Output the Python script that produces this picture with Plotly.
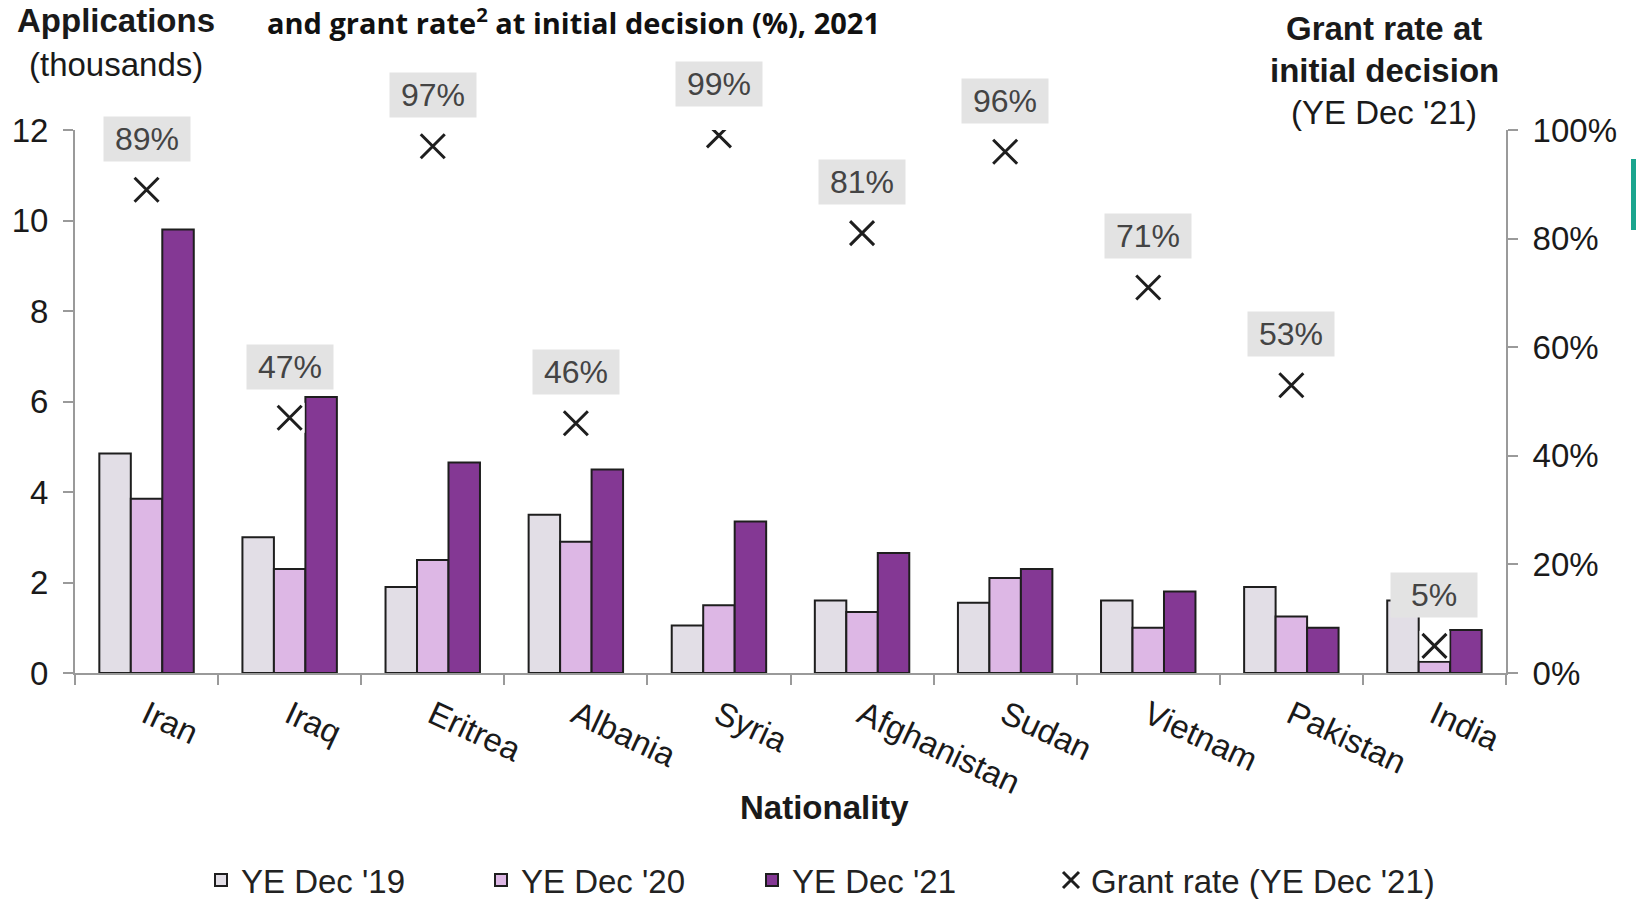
import plotly.graph_objects as go

# Asylum applications by nationality (thousands) and initial-decision grant rate
nationalities = ["Iran", "Iraq", "Eritrea", "Albania", "Syria",
                 "Afghanistan", "Sudan", "Vietnam", "Pakistan", "India"]
apps_2019 = [4.85, 3.0, 1.9, 3.5, 1.05, 1.6, 1.55, 1.6, 1.9, 1.6]
apps_2020 = [3.85, 2.3, 2.5, 2.9, 1.5, 1.35, 2.1, 1.0, 1.25, 0.25]
apps_2021 = [9.8, 6.1, 4.65, 4.5, 3.35, 2.65, 2.3, 1.8, 1.0, 0.95]
grant_rate = [89, 47, 97, 46, 99, 81, 96, 71, 53, 5]

series_names = ["YE Dec '19", "YE Dec '20", "YE Dec '21"]
series_colors = ["#E2DEE6", "#DDB7E5", "#843894"]

W, H = 1636, 899
L, R, T, B = 75, 130, 130, 226
PW = W - L - R
PH = H - T - B


def px_x(px):
    return (px - L) / PW


def px_y(py):
    return 1 - (py - T) / PH


FONT = "Liberation Sans, Arial, sans-serif"
TEXT = "#1a1a1a"
AXIS = "#9a9a9a"

fig = go.Figure()

legend_ids = ["legend", "legend2", "legend3"]
for name, vals, col, lg in zip(series_names, [apps_2019, apps_2020, apps_2021],
                               series_colors, legend_ids):
    fig.add_trace(go.Bar(
        x=nationalities, y=vals, name=name, legend=lg,
        marker=dict(color=col, line=dict(color="#1e1e1e", width=2)),
        yaxis="y",
    ))

# white backing behind each cross so it stays legible over bars
fig.add_trace(go.Scatter(
    x=nationalities, y=grant_rate, yaxis="y2", mode="markers",
    marker=dict(symbol="square", size=30, color="white", line=dict(width=0)),
    showlegend=False, hoverinfo="skip",
))
fig.add_trace(go.Scatter(
    x=nationalities, y=grant_rate, yaxis="y2", mode="markers",
    name="Grant rate (YE Dec '21)", legend="legend4",
    marker=dict(symbol="x-thin", size=24, color="#1e1e1e",
                line=dict(width=3, color="#1e1e1e")),
))

# grey value boxes above each cross
for nat, rate in zip(nationalities, grant_rate):
    fig.add_annotation(
        x=nat, y=rate, xref="x", yref="y2", yshift=51,
        text=f"{rate}%", showarrow=False,
        font=dict(family=FONT, size=32, color="#444444"),
        bgcolor="#E3E3E3", width=84, height=42,
    )

# axis captions and title
fig.add_annotation(x=px_x(116), y=px_y(21), xref="paper", yref="paper",
                   text="<b>Applications</b>", showarrow=False,
                   font=dict(family=FONT, size=33, color=TEXT),
                   xanchor="center", yanchor="middle")
fig.add_annotation(x=px_x(116), y=px_y(65), xref="paper", yref="paper",
                   text="(thousands)", showarrow=False,
                   font=dict(family=FONT, size=33, color=TEXT),
                   xanchor="center", yanchor="middle")
fig.add_annotation(x=px_x(1384), y=px_y(29), xref="paper", yref="paper",
                   text="<b>Grant rate at</b>", showarrow=False,
                   font=dict(family=FONT, size=33, color=TEXT),
                   xanchor="center", yanchor="middle")
fig.add_annotation(x=px_x(1384), y=px_y(71), xref="paper", yref="paper",
                   text="<b>initial decision</b>", showarrow=False,
                   font=dict(family=FONT, size=33, color=TEXT),
                   xanchor="center", yanchor="middle")
fig.add_annotation(x=px_x(1384), y=px_y(113), xref="paper", yref="paper",
                   text="(YE Dec '21)", showarrow=False,
                   font=dict(family=FONT, size=33, color=TEXT),
                   xanchor="center", yanchor="middle")
fig.add_annotation(x=px_x(824), y=px_y(807), xref="paper", yref="paper",
                   text="<b>Nationality</b>", showarrow=False,
                   font=dict(family=FONT, size=33, color=TEXT),
                   xanchor="center", yanchor="middle")
fig.add_annotation(x=px_x(573), y=px_y(21), xref="paper", yref="paper",
                   text="<b>and grant rate<sup>2</sup> at initial decision (%), 2021</b>",
                   showarrow=False,
                   font=dict(family="Liberation Sans Narrow, Open Sans, sans-serif",
                             size=29, color="#111111"),
                   xanchor="center", yanchor="middle")

# small teal accent at the right edge
fig.add_shape(type="rect", xref="paper", yref="paper",
              x0=px_x(1631), x1=px_x(1637), y0=px_y(230), y1=px_y(159),
              fillcolor="#1BA58E", line=dict(width=0), layer="above")


def legend_at(text_left_px):
    return dict(
        orientation="h", xref="container", yref="container",
        x=(text_left_px - 39) / W, y=1 - 880 / H,
        xanchor="left", yanchor="middle",
        font=dict(family=FONT, size=33, color="#222222"),
        itemwidth=30, bgcolor="rgba(0,0,0,0)",
    )


fig.update_layout(
    width=W, height=H,
    margin=dict(l=L, r=R, t=T, b=B),
    paper_bgcolor="white", plot_bgcolor="white",
    barmode="group", bargap=0.34, bargroupgap=0,
    font=dict(family=FONT, size=33, color=TEXT),
    showlegend=True,
    legend=legend_at(240),
    legend2=legend_at(520),
    legend3=legend_at(791),
    legend4=legend_at(1090),
    xaxis=dict(
        type="category", range=[-0.5, 9.5],
        showline=True, linecolor=AXIS, linewidth=2,
        ticks="outside", tickson="boundaries", ticklen=10,
        tickcolor=AXIS, tickwidth=2, ticklabelstandoff=8,
        tickangle=25, tickfont=dict(family=FONT, size=33, color=TEXT),
        showgrid=False, zeroline=False,
    ),
    yaxis=dict(
        range=[0, 12], tickvals=[0, 2, 4, 6, 8, 10, 12],
        showline=True, linecolor=AXIS, linewidth=2,
        ticks="outside", ticklen=10, tickcolor=AXIS, tickwidth=2,
        ticklabelstandoff=8,
        tickfont=dict(family=FONT, size=33, color=TEXT),
        showgrid=False, zeroline=False,
    ),
    yaxis2=dict(
        range=[0, 100], tickvals=[0, 20, 40, 60, 80, 100],
        ticktext=["0%", "20%", "40%", "60%", "80%", "100%"],
        overlaying="y", side="right",
        showline=True, linecolor=AXIS, linewidth=2,
        ticks="outside", ticklen=10, tickcolor=AXIS, tickwidth=2,
        ticklabelstandoff=8,
        tickfont=dict(family=FONT, size=33, color=TEXT),
        showgrid=False, zeroline=False,
    ),
)

fig.write_html("out.html")
